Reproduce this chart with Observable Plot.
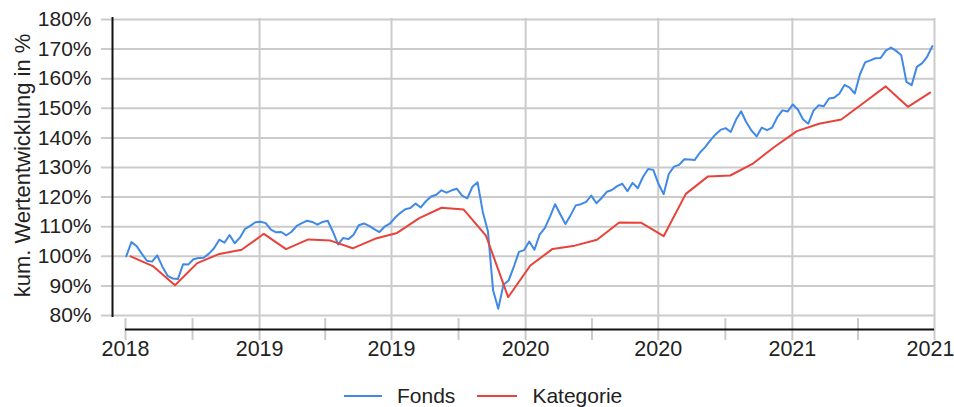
<!DOCTYPE html>
<html>
<head>
<meta charset="utf-8">
<script src="https://cdn.jsdelivr.net/npm/d3@7"></script>
<script src="https://cdn.jsdelivr.net/npm/@observablehq/plot@0.6"></script>
<style>
  html, body { margin: 0; padding: 0; background: #fff; overflow: hidden; }
  body { width: 954px; height: 407px; font-family: "Liberation Sans", Arial, sans-serif; color: #222; }
  #legend { position: relative; height: 29px; font-size: 21px; }
  #legend .row { position: absolute; left: 344px; top: 3px; height: 29px; display: flex; align-items: center; }
  #legend .sw { display: inline-block; width: 38px; height: 2px; margin-right: 15px; }
  #legend .item { display: flex; align-items: center; margin-right: 22px; }
</style>
</head>
<body>
<div id="chart"></div>
<div id="legend"></div>
<script>
// ---- Data ----
const seriesNames = ["Fonds", "Kategorie"];
const seriesColors = ["#4089e6", "#e8433a"];

// Fonds: weekly values (kum. Wertentwicklung in %)
const fondsStart = "2018-07-02";
const fondsEnd = "2021-07-12";
const fondsValues = [
  100, 104.8, 103.5, 100.9, 98.5, 98.2, 100.3, 96.5, 93.4, 92.5,
  92.3, 97.3, 97.2, 99.0, 99.4, 99.5, 100.9, 102.7, 105.6, 104.6,
  107.2, 104.4, 106.3, 109.3, 110.3, 111.5, 111.7, 111.2, 109.0, 108.1,
  108.2, 107.1, 108.3, 110.3, 111.2, 112.0, 111.6, 110.7, 111.6, 112.0,
  108.3, 104.0, 106.2, 105.8, 107.3, 110.5, 111.1, 110.3, 109.2, 108.2,
  110.0, 111.0, 113.0, 114.6, 115.9, 116.3, 117.8, 116.5, 118.6, 120.2,
  120.8, 122.3, 121.5, 122.3, 122.8, 120.5, 119.6, 123.5, 125.0, 115.0,
  108.5, 88.5, 82.3, 90.4, 91.8, 96.4, 101.5, 102.1, 105.0, 102.2,
  107.3, 109.5, 113.3, 117.6, 114.2, 110.9, 113.9, 117.2, 117.6, 118.4,
  120.5, 117.9, 119.7, 121.8, 122.4, 123.7, 124.5, 122.0, 124.8, 123.0,
  126.8, 129.5, 129.2, 124.5, 121.0, 127.8, 130.3, 130.9, 132.8, 132.7,
  132.5, 135.0, 136.8, 139.1, 141.1, 142.7, 143.3, 142.0, 146.1, 149.0,
  145.3, 142.5, 140.5, 143.5, 142.6, 143.5, 147.0, 149.3, 148.9, 151.3,
  149.5, 146.2, 144.8, 149.2, 151.0, 150.7, 153.3, 153.6, 154.9, 157.9,
  157.0, 155.0, 161.5, 165.5, 166.2, 166.9, 167.0, 169.5, 170.5, 169.4,
  167.9, 158.9, 157.8, 164.0, 165.2, 167.4, 171.0
];

// Kategorie: monthly values
const kategorieStart = "2018-07-08";
const kategorieEnd = "2021-07-09";
const kategorieValues = [
  100, 96.7, 90.2, 97.7, 100.8, 102.2, 107.6, 102.4, 105.7, 105.3,
  102.7, 105.9, 107.9, 112.9, 116.4, 115.8, 107.0, 86.2, 96.9, 102.5,
  103.6, 105.6, 111.4, 111.3, 106.8, 121.1, 127.0, 127.3, 131.2, 137.0,
  142.3, 144.8, 146.2, 151.8, 157.4, 150.5, 155.3
];

// Axes
const xDomain = ["2018-07-01", "2021-07-15"];
const xMajorDates = ["2018-07-01", "2019-01-01", "2019-07-01", "2020-01-01", "2020-07-01", "2021-01-01", "2021-07-15"];
const xMajorLabels = ["2018", "2019", "2019", "2020", "2020", "2021", "2021"];
const xMinorDates = ["2018-10-01", "2019-04-01", "2019-10-01", "2020-04-01", "2020-10-01", "2021-04-01"];
const yTicks = [80, 90, 100, 110, 120, 130, 140, 150, 160, 170, 180];
const yTitle = "kum. Wertentwicklung in %";

// ---- Build tables ----
const D = s => new Date(s + "T00:00:00Z");
function spread(start, end, values, name) {
  const t0 = +D(start), t1 = +D(end), n = values.length;
  return values.map((v, i) => ({date: new Date(t0 + (t1 - t0) * i / (n - 1)), value: v, series: name}));
}
const fonds = spread(fondsStart, fondsEnd, fondsValues, seriesNames[0]);
const kategorie = spread(kategorieStart, kategorieEnd, kategorieValues, seriesNames[1]);
const xMajor = xMajorDates.map((d, i) => ({date: D(d), label: xMajorLabels[i]}));
const xLabelsInner = xMajor.slice(0, -1);
const xLabelLast = xMajor.slice(-1);
const xGrid = xMajor.slice(1).map(d => d.date);
const xShortTicks = [xMajor[0].date, ...xMinorDates.map(D)];
const grid = "#cbcbcb";

const chart = Plot.plot({
  width: 954,
  height: 378,
  marginLeft: 101,
  marginRight: 20,
  marginTop: 19,
  marginBottom: 63,
  x: {type: "utc", domain: xDomain.map(D), range: [125, 934], axis: null},
  y: {domain: [80, 180], range: [315, 19], axis: null},
  style: {fontFamily: "'Liberation Sans', Arial, sans-serif", fontSize: "21px", color: "#222", background: "#fff", overflow: "visible"},
  marks: [
    Plot.ruleY(yTicks, {stroke: grid, strokeWidth: 2}),
    Plot.ruleX(xGrid, {stroke: grid, strokeWidth: 2, insetTop: -1, insetBottom: -25}),
    Plot.ruleX(xShortTicks, {stroke: grid, strokeWidth: 2, insetTop: 299, insetBottom: -25}),
    Plot.ruleX([D(xDomain[0])], {dx: -13, stroke: "#111", strokeWidth: 2, insetTop: -2, insetBottom: -2}),
    Plot.ruleY([80], {dy: 14, insetLeft: 24, stroke: "#111", strokeWidth: 2}),
    Plot.text(yTicks, {y: d => d, text: d => d + "%", frameAnchor: "left", textAnchor: "end", dx: -10, fill: "#222", fontSize: 21}),
    Plot.text([yTitle], {text: d => d, frameAnchor: "left", textAnchor: "middle", lineAnchor: "middle", rotate: -90, dx: -79, dy: -2, fill: "#222", fontSize: 22}),
    Plot.text(xLabelsInner, {x: "date", text: "label", frameAnchor: "bottom", dy: 40, fill: "#222", fontSize: 21.5}),
    Plot.text(xLabelLast, {x: "date", text: "label", frameAnchor: "bottom", dy: 40, dx: -4, fill: "#222", fontSize: 21.5}),
    Plot.line(fonds, {x: "date", y: "value", stroke: seriesColors[0], strokeWidth: 2}),
    Plot.line(kategorie, {x: "date", y: "value", stroke: seriesColors[1], strokeWidth: 2})
  ]
});
document.getElementById("chart").append(chart);

// Legend
const row = document.createElement("div");
row.className = "row";
seriesNames.forEach((name, i) => {
  const item = document.createElement("span");
  item.className = "item";
  const sw = document.createElement("span");
  sw.className = "sw";
  sw.style.background = seriesColors[i];
  if (i === 1) sw.style.width = "40px";
  item.append(sw, document.createTextNode(name));
  row.append(item);
});
document.getElementById("legend").append(row);
</script>
</body>
</html>
